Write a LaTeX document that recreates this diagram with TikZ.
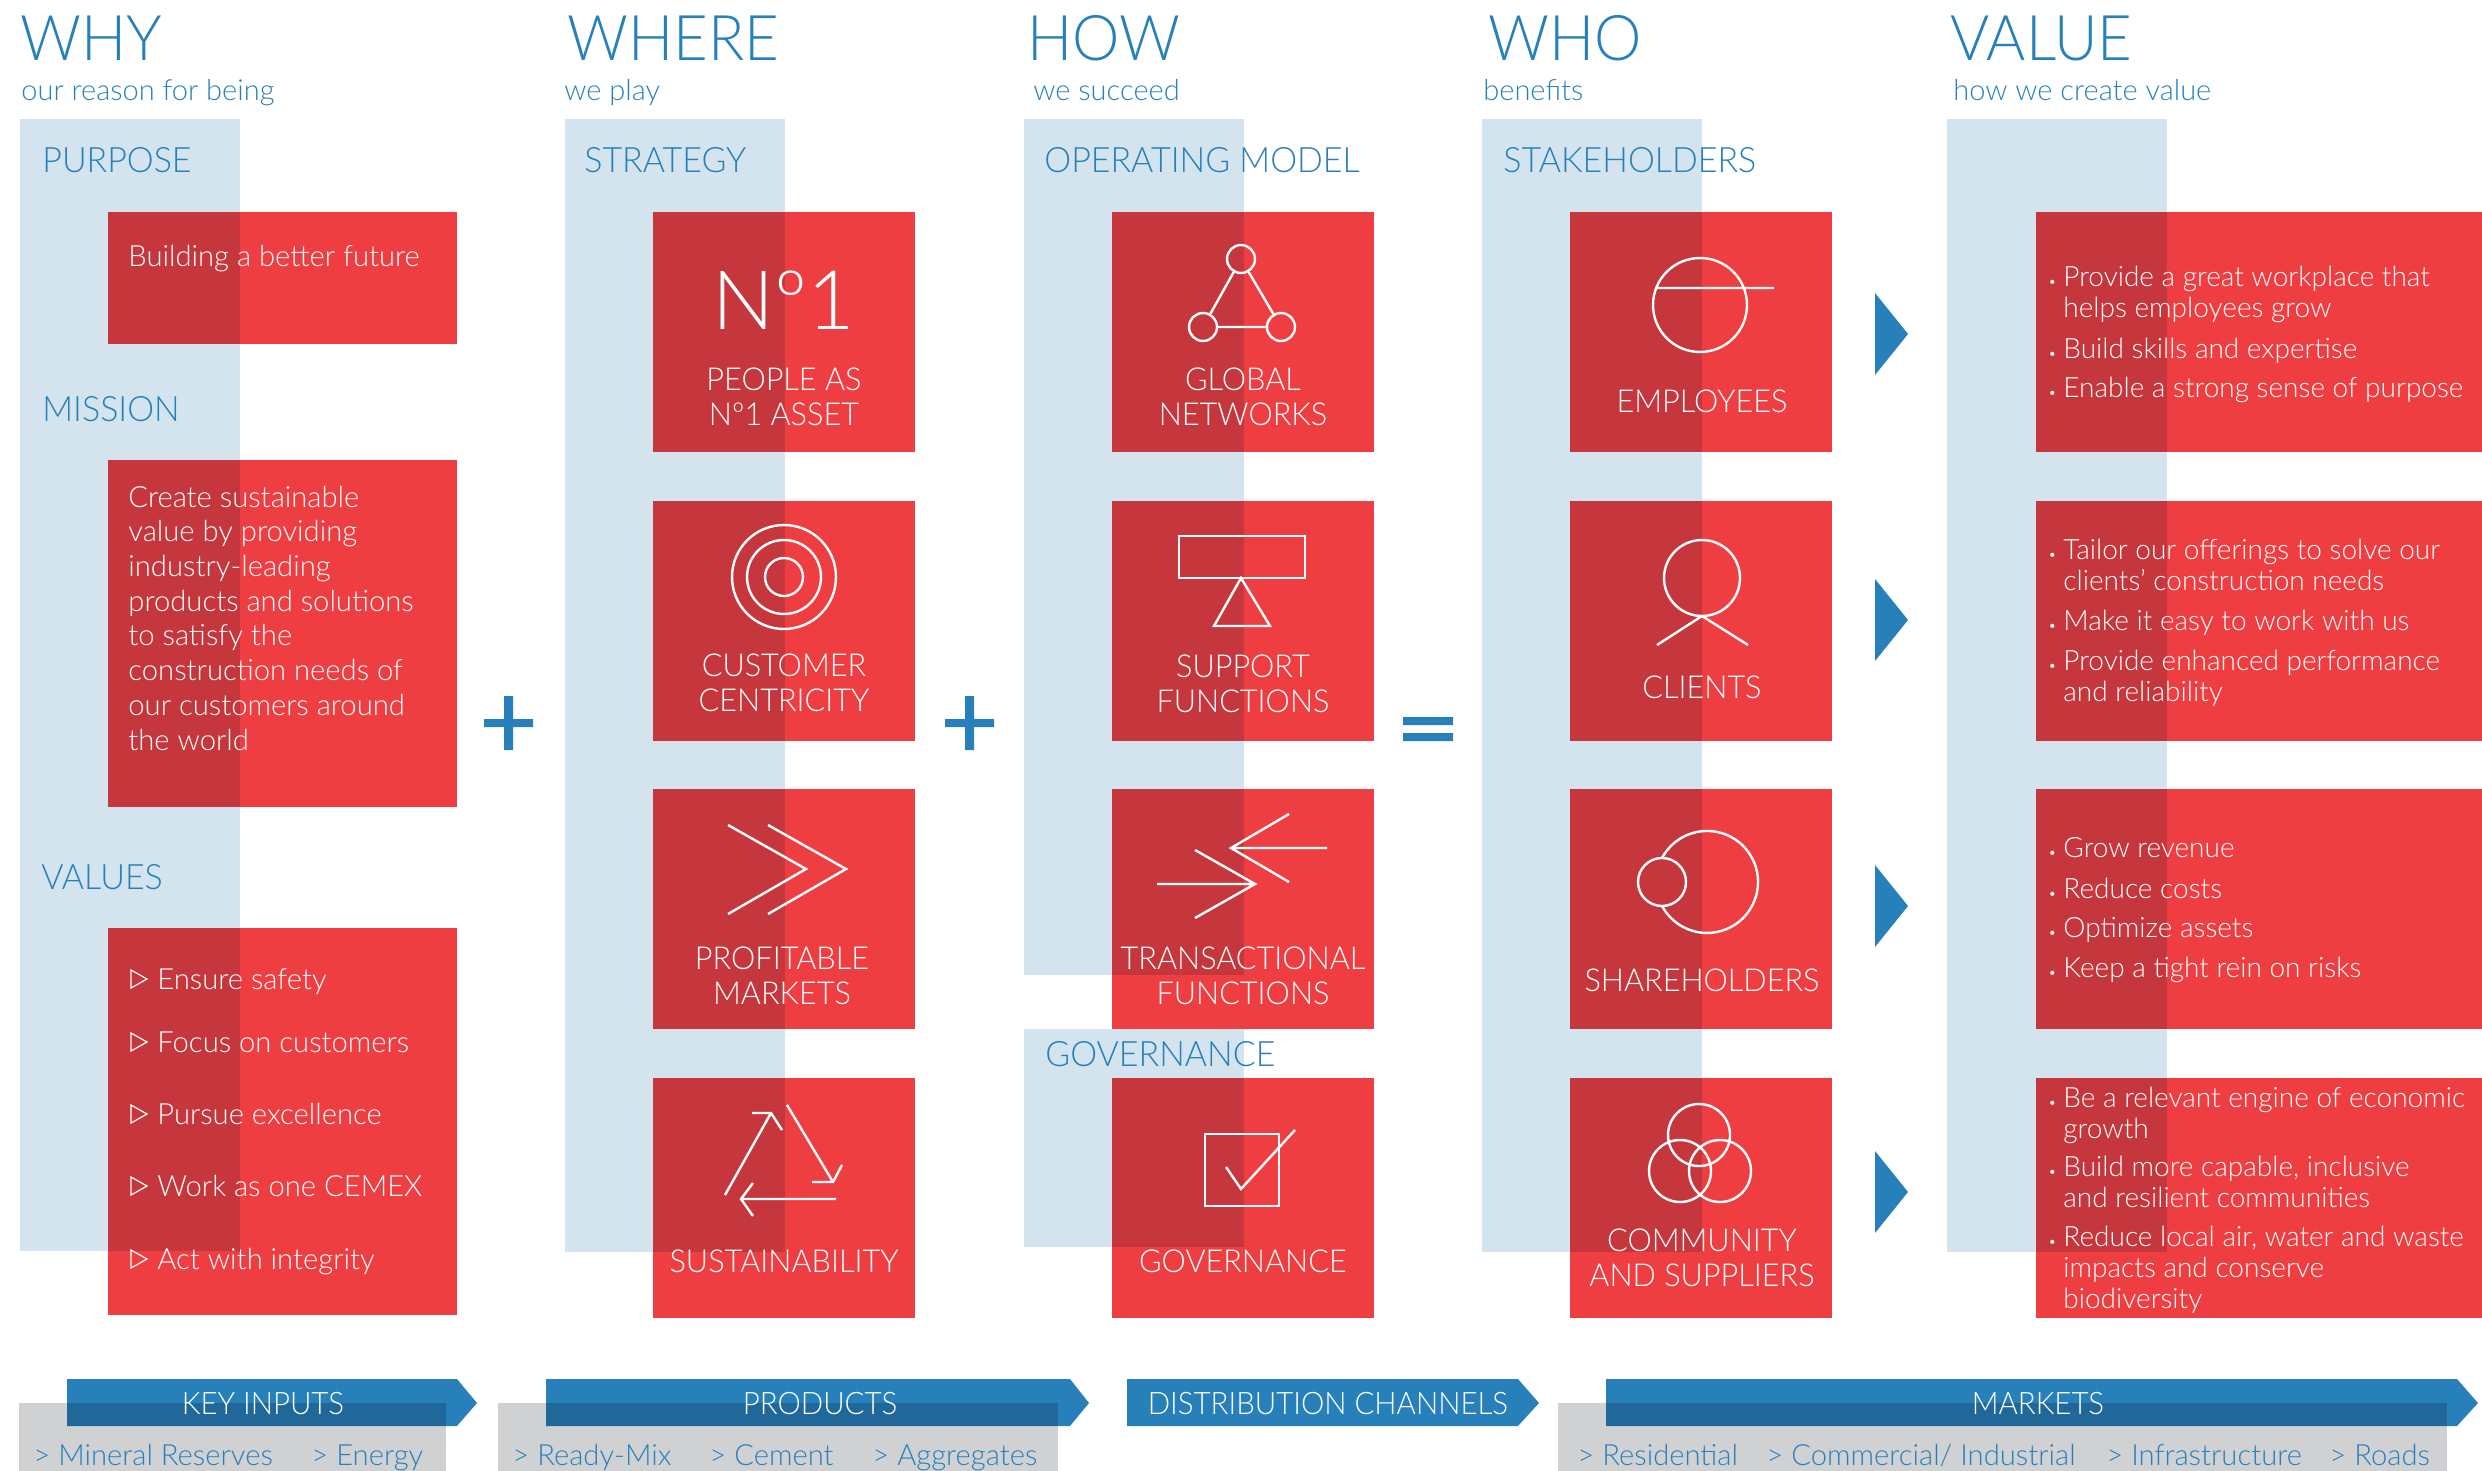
\documentclass[tikz,border=0pt]{standalone}
\usepackage{fontspec}
\setmainfont{Lato}[UprightFont=* Light,BoldFont=*]
\newfontfamily\capsfont{Lato}[UprightFont=* Light,BoldFont=*,FakeStretch=0.95]
\newfontfamily\labelfont{Lato}[UprightFont=* Light,BoldFont=*,FakeStretch=0.97]
\definecolor{cemblue}{HTML}{2880BA}
\definecolor{cemred}{HTML}{EF3E42}
\definecolor{cemband}{HTML}{D3E4EF}
\definecolor{cemgray}{HTML}{D0D1D3}
\tikzstyle{headtext}=[anchor=base west, inner sep=0pt, text=cemblue, font=\capsfont\fontsize{31.5}{31}\selectfont]
\tikzstyle{subtext}=[anchor=base west, inner sep=0pt, text=cemblue, font=\fontsize{14.5}{15}\selectfont]
\tikzstyle{secttext}=[anchor=base west, inner sep=0pt, text=cemblue, font=\labelfont\fontsize{17.5}{18}\selectfont]
\tikzstyle{boxtext}=[anchor=base west, inner sep=0pt, align=left, text=white, font=\fontsize{14.6}{17.35}\selectfont]
\tikzstyle{listtext}=[anchor=base west, inner sep=0pt, align=left, text=white, font=\fontsize{14}{15.5}\selectfont]
\tikzstyle{iconlabel}=[anchor=base, inner sep=0pt, align=center, text=white, font=\labelfont\fontsize{15.8}{17.5}\selectfont]
\tikzstyle{bannertext}=[anchor=base, inner sep=0pt, text=white, font=\capsfont\fontsize{15.5}{16}\selectfont]
\tikzstyle{markettext}=[anchor=base west, inner sep=0pt, text=cemblue, font=\fontsize{14.6}{16}\selectfont]
\tikzstyle{iconline}=[draw=white, line width=1.2pt]
\tikzstyle{netnode}=[circle, iconline, inner sep=0pt, minimum size=14pt]
\newcommand{\bul}{\llap{\scriptsize•\hspace{3.5pt}}}
\begin{document}
\begin{tikzpicture}[x=0.5pt, y=-0.5pt]
    \useasboundingbox (0,0) rectangle (2482,1471);
    % red boxes
    \fill[cemred] (108,212) rectangle (457,344);
    \fill[cemred] (108,460) rectangle (457,807);
    \fill[cemred] (108,928) rectangle (457,1315);
    \foreach \xa/\xb in {653/915,1112/1374,1570/1832,2036/2482}
        \foreach \ya/\yb in {212/452,501/741,789/1029,1078/1318}
            \fill[cemred] (\xa,\ya) rectangle (\xb,\yb);
    % banners
    \foreach \xa/\xb/\xc in {67/457/477,546/1070/1089,1127/1518/1539,1606/2457/2478}
        \fill[cemblue] (\xa,1379) -- (\xb,1379) -- (\xc,1403) -- (\xb,1426) -- (\xa,1426) -- cycle;
    % light bands laid over the boxes
    \begin{scope}[blend mode=multiply]
        \fill[cemband] (20,119) rectangle (240,1251);
        \fill[cemband] (565,119) rectangle (785,1252);
        \fill[cemband] (1024,119) rectangle (1244,975);
        \fill[cemband] (1024,1029) rectangle (1244,1247);
        \fill[cemband] (1482,119) rectangle (1702,1252);
        \fill[cemband] (1947,119) rectangle (2167,1252);
        \fill[cemgray] (19,1403) rectangle (446,1471);
        \fill[cemgray] (498,1403) rectangle (1058,1471);
        \fill[cemgray] (1558,1403) rectangle (2447,1471);
    \end{scope}
    % column heads
    \node (whyhead) at (20,61) [headtext] {WHY};
    \node (wherehead) at (567,61) [headtext] {WHERE};
    \node (howhead) at (1027,61) [headtext] {HOW};
    \node (whohead) at (1488,61) [headtext] {WHO};
    \node (valuehead) at (1950,61) [headtext] {VALUE};
    \node (whysub) at (21,101) [subtext] {our reason for being};
    \node (wheresub) at (564,101) [subtext] {we play};
    \node (howsub) at (1033,101) [subtext] {we succeed};
    \node (whosub) at (1483,101) [subtext] {benefits};
    \node (valuesub) at (1953,101) [subtext] {how we create value};
    \node (purpose) at (42,173) [secttext] {PURPOSE};
    \node (mission) at (42,421) [secttext] {MISSION};
    \node (values) at (41,889) [secttext] {VALUES};
    \node (strategy) at (584,173) [secttext] {STRATEGY};
    \node (opmodel) at (1044,173) [secttext] {OPERATING MODEL};
    \node (governance) at (1045,1066) [secttext] {GOVERNANCE};
    \node (stakeholders) at (1503,173) [secttext] {STAKEHOLDERS};
    % first column
    \node (purposetext) at (128,266) [boxtext] {Building a better future};
    \node (missiontext) at (128,750) [boxtext] {Create sustainable\\value by providing\\industry-leading\\products and solutions\\to satisfy the\\construction needs of\\our customers around\\the world};
    \foreach \y/\t in {989/Ensure safety,1052/Focus on customers,1124/Pursue excellence,1196/Work as one CEMEX,1269/Act with integrity} {
        \node (val\y) at (157,\y) [boxtext] {\t};
        \draw[white, line width=0.6pt] (131,\y-19) -- (147,\y-10) -- (131,\y-1) -- cycle;
    }
    % labels of the boxes
    \node (nolarge) at (784,329) [iconlabel, font=\fontsize{41}{41}\selectfont] {Nº1};
    \node (peoplelab) at (784,425) [iconlabel] {PEOPLE AS\\Nº1 ASSET};
    \node (customerlab) at (784,711) [iconlabel] {CUSTOMER\\CENTRICITY};
    \node (marketslab) at (782,1004) [iconlabel] {PROFITABLE\\MARKETS};
    \node (sustainlab) at (784,1272) [iconlabel] {SUSTAINABILITY};
    \node (networkslab) at (1243,425) [iconlabel] {GLOBAL\\NETWORKS};
    \node (supportlab) at (1243,712) [iconlabel] {SUPPORT\\FUNCTIONS};
    \node (translab) at (1243,1004) [iconlabel] {TRANSACTIONAL\\FUNCTIONS};
    \node (govlab) at (1243,1272) [iconlabel] {GOVERNANCE};
    \node (employeeslab) at (1702,412) [iconlabel] {EMPLOYEES};
    \node (clientslab) at (1702,698) [iconlabel] {CLIENTS};
    \node (holderslab) at (1702,991) [iconlabel] {SHAREHOLDERS};
    \node (communitylab) at (1702,1286) [iconlabel] {COMMUNITY\\AND SUPPLIERS};
    % value lists
    \node (valuea) at (2063,317) [listtext] {\bul Provide a great workplace that\\helps employees grow};
    \node (valueb) at (2063,358) [listtext] {\bul Build skills and expertise};
    \node (valuec) at (2063,397) [listtext] {\bul Enable a strong sense of purpose};
    \node (valued) at (2063,590) [listtext] {\bul Tailor our offerings to solve our\\clients’ construction needs};
    \node (valuee) at (2063,630) [listtext] {\bul Make it easy to work with us};
    \node (valuef) at (2063,701) [listtext] {\bul Provide enhanced performance\\and reliability};
    \node (valueg) at (2063,857) [listtext] {\bul Grow revenue};
    \node (valueh) at (2063,898) [listtext] {\bul Reduce costs};
    \node (valuei) at (2063,937) [listtext] {\bul Optimize assets};
    \node (valuej) at (2063,977) [listtext] {\bul Keep a tight rein on risks};
    \node (valuek) at (2063,1138) [listtext] {\bul Be a relevant engine of economic\\growth};
    \node (valuel) at (2063,1207) [listtext] {\bul Build more capable, inclusive\\and resilient communities};
    \node (valuem) at (2063,1308) [listtext] {\bul Reduce local air, water and waste\\impacts and conserve\\biodiversity};
    % signs between the columns
    \fill[cemblue] (484,719) rectangle (533,727) (504,696) rectangle (513,750);
    \fill[cemblue] (945,719) rectangle (994,727) (965,696) rectangle (974,750);
    \fill[cemblue] (1403,717) rectangle (1453,725) (1403,733) rectangle (1453,741);
    \foreach \y in {334,620,906,1192}
        \fill[cemblue] (1875,\y-41) -- (1908,\y) -- (1875,\y+41) -- cycle;
    % icons
    \draw[iconline] (784,577) circle[radius=52] (784,577) circle[radius=37] (784,577) circle[radius=19];
    \draw[iconline] (728,825) -- (806,869) -- (728,914) (768,825) -- (846,869) -- (768,914);
    \draw[iconline] (725,1195) -- (771,1113) (752,1113) -- (771,1113) -- (782,1130);
    \draw[iconline] (787,1105) -- (833,1182) (842,1165) -- (833,1182) -- (812,1182);
    \draw[iconline] (836,1199) -- (741,1199) (753,1183) -- (741,1199) -- (753,1216);
    \node (nettop) at (1241,259) [netnode] {};
    \node (netleft) at (1203,327) [netnode] {};
    \node (netright) at (1281,327) [netnode] {};
    \draw[iconline] (nettop) -- (netleft) -- (netright) -- (nettop);
    \draw[iconline] (1179,536) rectangle (1305,578);
    \draw[iconline] (1241,578) -- (1214,626) -- (1270,626) -- cycle;
    \draw[iconline] (1157,884) -- (1255,884) (1195,850) -- (1255,884) -- (1195,918);
    \draw[iconline] (1327,848) -- (1231,848) (1289,814) -- (1231,848) -- (1289,882);
    \draw[iconline] (1205,1134) rectangle (1279,1206);
    \draw[iconline] (1226,1167) -- (1241,1189) -- (1295,1130);
    \draw[iconline] (1700,305) circle[radius=47] (1656,288) -- (1774,288);
    \draw[iconline] (1702,578) circle[radius=38];
    \draw[iconline] (1657,645) -- (1702,616) -- (1748,645);
    \draw[iconline] (1662,882) circle[radius=24];
    \draw[iconline] (1662,858) arc[start angle=208, end angle=512, radius=51];
    \draw[iconline] (1699,1135) circle[radius=31] (1680,1171) circle[radius=31] (1720,1171) circle[radius=31];
    % bottom strip
    \node (keyinputs) at (263,1414) [bannertext] {KEY INPUTS};
    \node (products) at (820,1414) [bannertext] {PRODUCTS};
    \node (channels) at (1328,1414) [bannertext] {DISTRIBUTION CHANNELS};
    \node (markets) at (2038,1414) [bannertext] {MARKETS};
    \node (mineral) at (33,1465) [markettext] {> Mineral Reserves};
    \node (energy) at (311,1465) [markettext] {> Energy};
    \node (readymix) at (512,1465) [markettext] {> Ready-Mix};
    \node (cement) at (709,1465) [markettext] {> Cement};
    \node (aggregates) at (872,1465) [markettext] {> Aggregates};
    \node (residential) at (1577,1465) [markettext] {> Residential};
    \node (commercial) at (1766,1465) [markettext] {> Commercial/ Industrial};
    \node (infrastructure) at (2106,1465) [markettext] {> Infrastructure};
    \node (roads) at (2329,1465) [markettext] {> Roads};
\end{tikzpicture}
\end{document}
